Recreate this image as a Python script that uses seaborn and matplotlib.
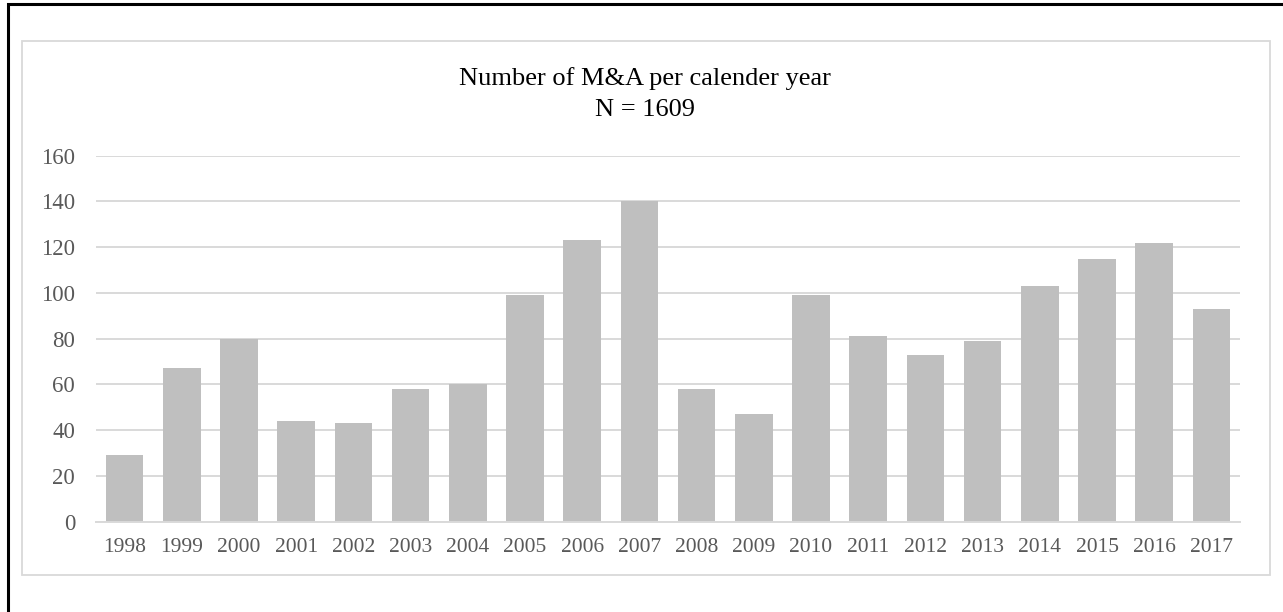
import matplotlib
matplotlib.use("Agg")
import matplotlib.pyplot as plt
from matplotlib.patches import Rectangle
import seaborn as sns
import pandas as pd

# Yearly deal counts
years = ["1998", "1999", "2000", "2001", "2002", "2003", "2004", "2005", "2006", "2007",
         "2008", "2009", "2010", "2011", "2012", "2013", "2014", "2015", "2016", "2017"]
deals = [29, 67, 80, 44, 43, 58, 60, 99, 123, 140,
         58, 47, 99, 81, 73, 79, 103, 115, 122, 93]
y_ticks = [0, 20, 40, 60, 80, 100, 120, 140, 160]
title_line1 = "Number of M&A per calender year"
title_line2 = "N = 1609"

sns.set_style("white")
plt.rcParams["font.family"] = ["Liberation Serif", "DejaVu Serif"]

df = pd.DataFrame({"year": years, "deals": deals})

W, H = 1283, 612
fig = plt.figure(figsize=(W / 100, H / 100), dpi=100)
fig.patch.set_facecolor("white")

# outer frame (black) and chart frame (light gray)
fig.patches.append(Rectangle((7.5 / W, -0.1), 1.2, 1.1 - 4 / H,
                             transform=fig.transFigure, fill=False,
                             edgecolor="black", linewidth=2.2, zorder=0))
fig.patches.append(Rectangle((21.7 / W, 1 - 575 / H), (1269.5 - 21.7) / W, (575 - 41) / H,
                             transform=fig.transFigure, fill=False,
                             edgecolor="#D9D9D9", linewidth=1.3, zorder=0))

ax = fig.add_axes([96 / W, (H - 521.7) / H, (1240 - 96) / W, (521.7 - 155.7) / H])
sns.barplot(data=df, x="year", y="deals", color="#BFBFBF", saturation=1,
            width=0.66, edgecolor="none", ax=ax, zorder=2)

ax.set_ylim(0, 160)
ax.set_xlim(-0.5, len(years) - 0.5)
ax.set_yticks(y_ticks)
ax.set_yticklabels([str(v) for v in y_ticks])
ax.yaxis.grid(True, color="#D9D9D9", linewidth=1.4, zorder=0)
ax.set_axisbelow(True)
for side in ["top", "right", "left"]:
    ax.spines[side].set_visible(False)
ax.spines["bottom"].set_color("#D9D9D9")
ax.spines["bottom"].set_linewidth(1.4)
ax.tick_params(axis="both", length=0, colors="#595959")
ax.tick_params(axis="y", pad=15, labelsize=16.5)
ax.tick_params(axis="x", pad=12, labelsize=15.5)
ax.set_xlabel("")
ax.set_ylabel("")

fig.text(645 / W, 1 - 85 / H, title_line1, ha="center", va="baseline",
         fontsize=19, color="black")
fig.text(645 / W, 1 - 116 / H, title_line2, ha="center", va="baseline",
         fontsize=19, color="black")

fig.savefig("out.png", dpi=100, facecolor="white")
